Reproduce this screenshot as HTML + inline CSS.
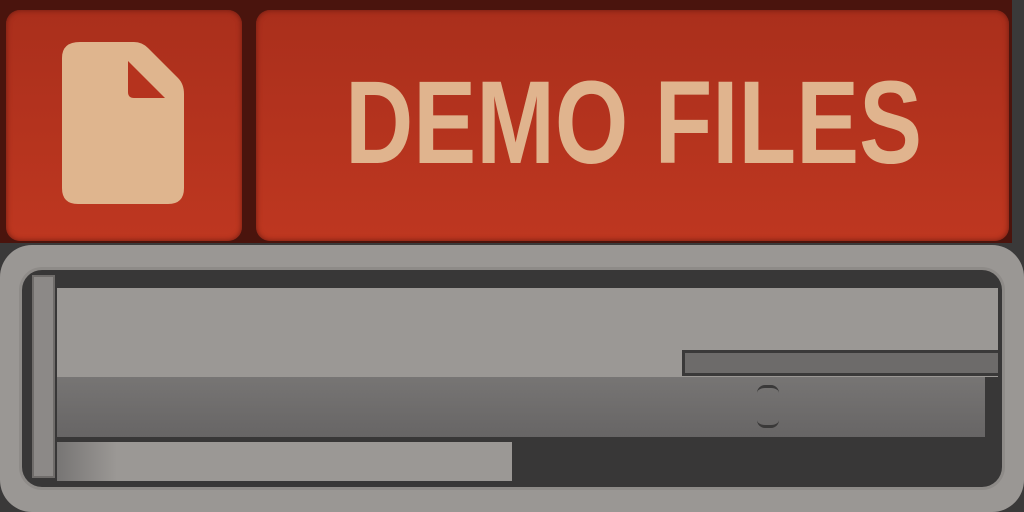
<!DOCTYPE html>
<html style="overflow:hidden"><head><style>
html,body{margin:0;width:1024px;height:512px;overflow:hidden}
body{background:#3a3939;position:relative;font-family:"Liberation Sans",sans-serif}
div{position:absolute;box-sizing:border-box}
</style></head><body>
<div style="left:0;top:0;width:1024px;height:243px;background:#4a140d"></div>
<div style="left:1012px;top:0;width:12px;height:243px;background:#3a3939"></div>
<div style="left:6px;top:10px;width:236px;height:231px;border-radius:14px;background:linear-gradient(#aa2f1c,#be3720);box-shadow:inset 0 0 6px #6a1a10"></div>
<div style="left:256px;top:10px;width:753px;height:231px;border-radius:14px;background:linear-gradient(#aa2f1c,#be3720);box-shadow:inset 0 0 6px #6a1a10"></div>
<svg style="position:absolute;left:62px;top:42px" width="124" height="164" viewBox="0 0 124 164">
<path d="M18 0 H72 Q80 0 86 6 L116 36 Q122 42 122 52 V146 Q122 162 106 162 H16 Q0 162 0 146 V16 Q0 0 18 0Z" fill="#dfb58e"/>
<path d="M66 19 V50 Q66 56 72 56 H103 Z" fill="#b5331e"/>
</svg>
<div style="left:256px;top:58px;width:753px;height:130px;text-align:center;line-height:130px;font-weight:bold;font-size:118px;color:#e0b48e;transform:scaleX(0.8);transform-origin:382px 0">DEMO FILES</div>
<div style="left:0;top:245px;width:1024px;height:267px;border-radius:32px;background:#9a9794"></div>
<div style="left:22px;top:270px;width:980px;height:217px;border-radius:20px;background:#383737;box-shadow:0 0 0 3px #8e8b88"></div>
<div style="left:32px;top:275px;width:23px;height:203px;background:#8c8987;border:2px solid #6f6c6a"></div>
<div style="left:57px;top:288px;width:941px;height:89px;background:#9b9895"></div>
<div style="left:682px;top:350px;width:316px;height:26px;background:#6d6b6a;border:3px solid #3a3939;border-right:none"></div>
<div style="left:57px;top:377px;width:928px;height:60px;background:linear-gradient(#777574,#676565)"></div>
<div style="left:757px;top:385px;width:22px;height:43px;border-top:3px solid #3a3939;border-bottom:3px solid #3a3939;border-radius:8px"></div>
<div style="left:57px;top:442px;width:455px;height:39px;background:linear-gradient(90deg,#777574,#9b9895 60px)"></div>
</body></html>
